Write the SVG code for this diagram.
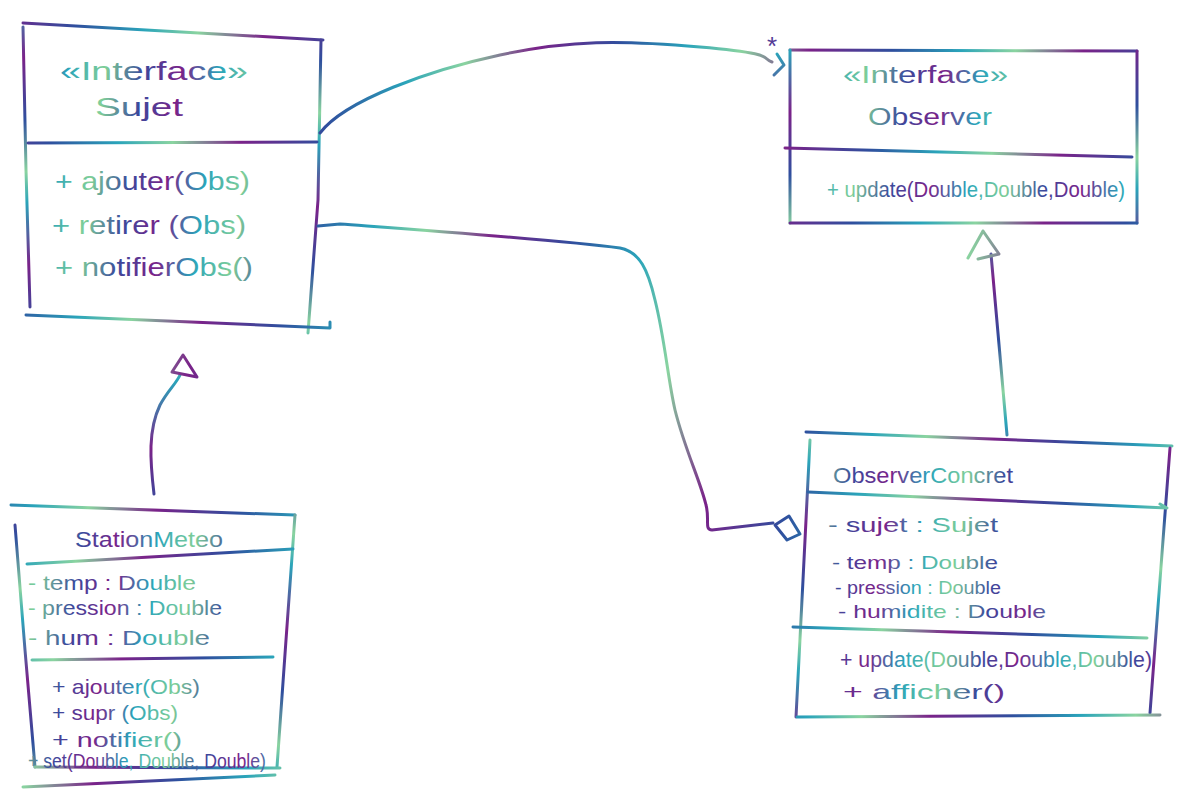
<svg xmlns="http://www.w3.org/2000/svg" width="1198" height="800" viewBox="0 0 1198 800">
<defs>
  <linearGradient id="ga" gradientUnits="userSpaceOnUse" x1="0" y1="0" x2="260" y2="60" spreadMethod="repeat">
    <stop offset="0" stop-color="#7a2289"/>
    <stop offset="0.3" stop-color="#2f4f9e"/>
    <stop offset="0.55" stop-color="#2aa4ba"/>
    <stop offset="0.75" stop-color="#8ad4a0"/>
    <stop offset="1" stop-color="#7a2289"/>
  </linearGradient>
  <linearGradient id="gb" gradientUnits="userSpaceOnUse" x1="0" y1="0" x2="40" y2="200" spreadMethod="repeat">
    <stop offset="0" stop-color="#2aa4ba"/>
    <stop offset="0.3" stop-color="#7a2289"/>
    <stop offset="0.6" stop-color="#2f4f9e"/>
    <stop offset="0.85" stop-color="#8ad4a0"/>
    <stop offset="1" stop-color="#2aa4ba"/>
  </linearGradient>
  <linearGradient id="gt" gradientUnits="userSpaceOnUse" x1="0" y1="0" x2="150" y2="20" spreadMethod="repeat">
    <stop offset="0" stop-color="#3a4a9c"/>
    <stop offset="0.25" stop-color="#7a2289"/>
    <stop offset="0.5" stop-color="#2aa4ba"/>
    <stop offset="0.75" stop-color="#7fcf98"/>
    <stop offset="1" stop-color="#3a4a9c"/>
  </linearGradient>
</defs>
<style>
  .h { fill: none; stroke: url(#ga); stroke-width: 3; stroke-linecap: round; stroke-linejoin: round; }
  .v { fill: none; stroke: url(#gb); stroke-width: 3; stroke-linecap: round; stroke-linejoin: round; }
  .t { font-family: "Liberation Sans", "Noto Sans", sans-serif; fill: url(#gt); }
</style>

<g id="sujet">
  <path class="h" d="M23,23 L323,40"/>
  <path class="v" d="M23,27 L26,170 L30,307"/>
  <path class="v" d="M321,40 L318,200 L308,333"/>
  <path class="h" d="M28,143 L317,142"/>
  <path class="h" d="M26,315 L330,328 L330,322"/>
  <text class="t" x="60" y="80" font-size="26" textLength="188" lengthAdjust="spacingAndGlyphs">«Interface»</text>
  <text class="t" x="95" y="116" font-size="26" textLength="88" lengthAdjust="spacingAndGlyphs">Sujet</text>
  <text class="t" x="55" y="190" font-size="25" textLength="195" lengthAdjust="spacingAndGlyphs">+ ajouter(Obs)</text>
  <text class="t" x="52" y="234" font-size="25" textLength="194" lengthAdjust="spacingAndGlyphs">+ retirer (Obs)</text>
  <text class="t" x="55" y="276" font-size="25" textLength="198" lengthAdjust="spacingAndGlyphs">+ notifierObs()</text>
</g>

<g id="observer">
  <path class="h" d="M790,50 L1137,51"/>
  <path class="v" d="M790,50 L790,223"/>
  <path class="v" d="M1137,51 L1137,223"/>
  <path class="h" d="M790,223 L1137,223"/>
  <path class="h" d="M785,148 L1132,157"/>
  <text class="t" x="843" y="83" font-size="23" textLength="165" lengthAdjust="spacingAndGlyphs">«Interface»</text>
  <text class="t" x="868" y="125" font-size="23" textLength="124" lengthAdjust="spacingAndGlyphs">Observer</text>
  <text class="t" x="827" y="197" font-size="22" textLength="298" lengthAdjust="spacingAndGlyphs">+ update(Double,Double,Double)</text>
</g>

<g id="stationmeteo">
  <path class="h" d="M11,505 L295,515"/>
  <path class="v" d="M15,525 L25,650 L35,767"/>
  <path class="v" d="M295,515 L286,640 L277,767"/>
  <path class="h" d="M27,564 L293,549"/>
  <path class="h" d="M32,660 L273,657"/>
  <path class="h" d="M35,767 L280,768"/>
  <path class="h" d="M23,787 L275,775"/>
  <text class="t" x="75" y="547" font-size="22" textLength="148" lengthAdjust="spacingAndGlyphs">StationMeteo</text>
  <text class="t" x="28" y="590" font-size="21" textLength="168" lengthAdjust="spacingAndGlyphs">- temp : Double</text>
  <text class="t" x="28" y="615" font-size="21" textLength="194" lengthAdjust="spacingAndGlyphs">- pression : Double</text>
  <text class="t" x="28" y="645" font-size="21" textLength="182" lengthAdjust="spacingAndGlyphs">- hum : Double</text>
  <text class="t" x="52" y="694" font-size="21" textLength="148" lengthAdjust="spacingAndGlyphs">+ ajouter(Obs)</text>
  <text class="t" x="52" y="720" font-size="21" textLength="126" lengthAdjust="spacingAndGlyphs">+ supr (Obs)</text>
  <text class="t" x="52" y="747" font-size="21" textLength="130" lengthAdjust="spacingAndGlyphs">+ notifier()</text>
  <text class="t" x="28" y="768" font-size="20" textLength="238" lengthAdjust="spacingAndGlyphs">+ set(Double, Double, Double)</text>
</g>

<g id="observerconcret">
  <path class="h" d="M806,432 L1172,446"/>
  <path class="v" d="M810,440 L803,580 L796,717"/>
  <path class="v" d="M1170,448 L1160,580 L1150,713"/>
  <path class="h" d="M808,492 L1167,508 L1160,504"/>
  <path class="h" d="M793,627 L1147,638"/>
  <path class="h" d="M797,717 L1160,715"/>
  <text class="t" x="833" y="483" font-size="22" textLength="180" lengthAdjust="spacingAndGlyphs">ObserverConcret</text>
  <text class="t" x="828" y="532" font-size="21" textLength="170" lengthAdjust="spacingAndGlyphs">- sujet : Sujet</text>
  <text class="t" x="832" y="569" font-size="19" textLength="166" lengthAdjust="spacingAndGlyphs">- temp : Double</text>
  <text class="t" x="835" y="594" font-size="18" textLength="166" lengthAdjust="spacingAndGlyphs">- pression : Double</text>
  <text class="t" x="838" y="618" font-size="19" textLength="208" lengthAdjust="spacingAndGlyphs">- humidite : Double</text>
  <text class="t" x="840" y="667" font-size="22" textLength="312" lengthAdjust="spacingAndGlyphs">+ update(Double,Double,Double)</text>
  <text class="t" x="843" y="699" font-size="21" textLength="162" lengthAdjust="spacingAndGlyphs">+ afficher()</text>
</g>

<g id="connectors">
  <!-- Sujet to Observer association with * -->
  <path class="h" d="M320,133 C345,100 430,70 500,55 S620,40 700,47 S760,58 772,62"/>
  <path class="v" d="M777,54 L784,65 L774,75"/>
  <text class="t" x="767" y="55" font-size="26">*</text>
  <!-- Aggregation ObserverConcret to Sujet -->
  <path class="h" d="M318,226 L340,224 C420,230 560,240 620,248 C640,252 648,270 655,300 C665,340 668,380 675,410 C685,450 700,480 706,505 C710,520 704,530 712,530 L773,523"/>
  <path class="h" d="M775,525 L789,516 L800,534 L787,540 Z"/>
  <!-- StationMeteo inherits Sujet -->
  <path class="v" d="M154,494 C150,460 148,430 160,405 C168,390 176,384 180,375"/>
  <path class="h" d="M183,355 L172,372 L197,377 Z"/>
  <!-- ObserverConcret implements Observer -->
  <path class="v" d="M1007,435 L991,254"/>
  <path class="h" d="M983,231 L968,258 M983,231 L999,254 L978,259"/>
</g>
</svg>
